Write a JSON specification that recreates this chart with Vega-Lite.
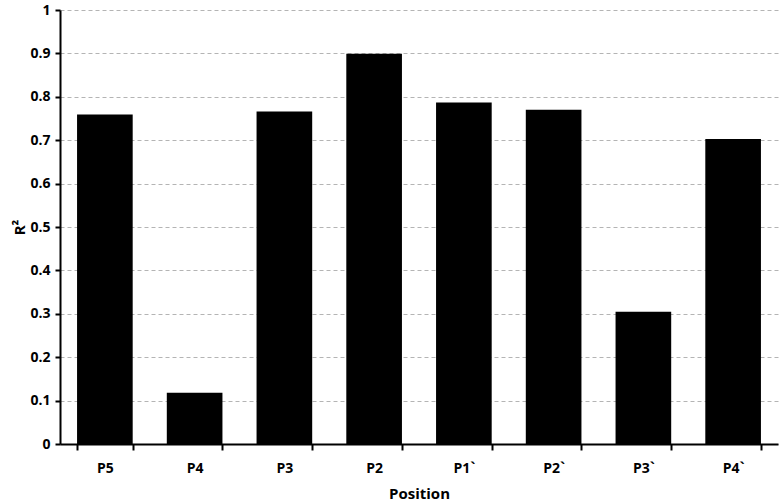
{
  "$schema": "https://vega.github.io/schema/vega-lite/v6.json",
  "width": 718,
  "height": 434,
  "autosize": {"type": "none"},
  "padding": {"left": 60, "top": 10, "right": 2, "bottom": 58},
  "background": "white",
  "config": {
    "view": {"stroke": null},
    "font": "Open Sans"
  },
  "data": {
    "values": [
      {"Position": "P5", "R2": 0.759},
      {"Position": "P4", "R2": 0.118},
      {"Position": "P3", "R2": 0.766},
      {"Position": "P2", "R2": 0.899},
      {"Position": "P1`", "R2": 0.787},
      {"Position": "P2`", "R2": 0.770},
      {"Position": "P3`", "R2": 0.305},
      {"Position": "P4`", "R2": 0.703}
    ]
  },
  "mark": {"type": "bar", "color": "black"},
  "encoding": {
    "x": {
      "field": "Position",
      "type": "nominal",
      "sort": null,
      "scale": {"paddingInner": 0.38, "paddingOuter": 0.19},
      "axis": {
        "title": "Position",
        "labelAngle": 0,
        "tickBand": "extent",
        "domainColor": "black",
        "domainWidth": 2,
        "tickColor": "black",
        "tickWidth": 2,
        "tickSize": 6,
        "labelFont": "Open Sans",
        "labelFontWeight": "bold",
        "labelFontSize": 14,
        "labelColor": "black",
        "labelPadding": 11,
        "titleFont": "Open Sans",
        "titleFontWeight": "bold",
        "titleFontSize": 15,
        "titleColor": "black",
        "titlePadding": 11
      }
    },
    "y": {
      "field": "R2",
      "type": "quantitative",
      "scale": {"domain": [0, 1], "nice": false},
      "axis": {
        "title": "R²",
        "values": [0, 0.1, 0.2, 0.3, 0.4, 0.5, 0.6, 0.7, 0.8, 0.9, 1],
        "format": ".1~f",
        "grid": true,
        "gridColor": "#b4b4b4",
        "gridDash": [4, 3],
        "gridWidth": 1,
        "domainColor": "black",
        "domainWidth": 2,
        "tickColor": "black",
        "tickWidth": 2,
        "tickSize": 5,
        "labelFont": "Open Sans",
        "labelFontWeight": "bold",
        "labelFontSize": 14,
        "labelColor": "black",
        "labelPadding": 5,
        "titleFont": "Open Sans",
        "titleFontWeight": "bold",
        "titleFontSize": 15,
        "titleColor": "black",
        "titlePadding": 2
      }
    }
  }
}
